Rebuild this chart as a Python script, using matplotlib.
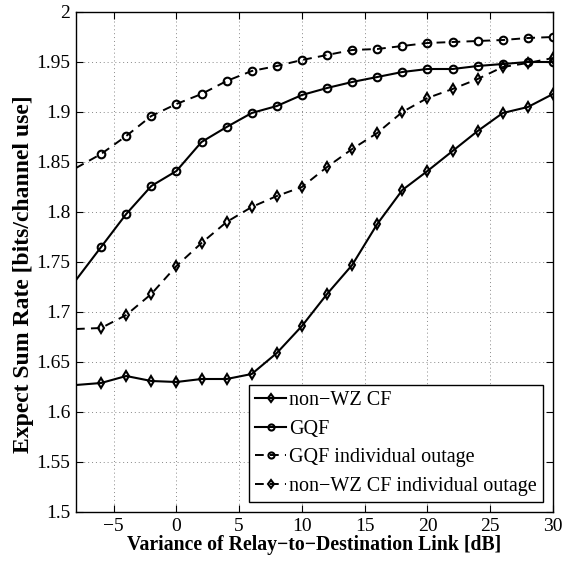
import numpy as np
import matplotlib
matplotlib.use("Agg")
import matplotlib.pyplot as plt
from matplotlib.ticker import FuncFormatter

plt.rcParams["font.family"] = ["Liberation Serif", "DejaVu Serif"]

# variance of relay-to-destination link [dB]
snr_db = [-8, -6, -4, -2, 0, 2, 4, 6, 8, 10, 12, 14, 16, 18, 20, 22, 24, 26, 28, 30]

nonwz_cf = [1.627, 1.629, 1.636, 1.631, 1.630, 1.633, 1.633, 1.638, 1.659, 1.686,
            1.718, 1.747, 1.788, 1.822, 1.841, 1.861, 1.881, 1.899, 1.905, 1.918]
gqf = [1.732, 1.765, 1.798, 1.826, 1.841, 1.870, 1.885, 1.899, 1.906, 1.917,
       1.924, 1.930, 1.935, 1.940, 1.943, 1.943, 1.946, 1.948, 1.950, 1.950]
gqf_outage = [1.844, 1.858, 1.876, 1.896, 1.908, 1.918, 1.931, 1.941, 1.946, 1.952,
              1.957, 1.962, 1.963, 1.966, 1.969, 1.970, 1.971, 1.972, 1.974, 1.975]
nonwz_outage = [1.683, 1.684, 1.697, 1.718, 1.746, 1.769, 1.790, 1.805, 1.816, 1.825,
                1.845, 1.863, 1.879, 1.900, 1.914, 1.923, 1.933, 1.945, 1.949, 1.954]

labels = ["non\u2212WZ CF", "GQF", "GQF individual outage", "non\u2212WZ CF individual outage"]

fig = plt.figure(figsize=(5.78, 5.67), dpi=100)
ax = fig.add_axes([76 / 578, 1 - 512 / 567, 477 / 578, 500 / 567])

common = dict(color="black", mfc="none", mew=1.5, markersize=5.5, markevery=slice(1, None))
dash = (4.5, 3.2)
ax.plot(snr_db, nonwz_cf, "-", marker="d", lw=1.5, label=labels[0], **common)
ax.plot(snr_db, gqf, "-", marker="o", lw=1.5, label=labels[1], **common)
ax.plot(snr_db, gqf_outage, "--", marker="o", lw=1.4, dashes=dash, label=labels[2], **common)
ax.plot(snr_db, nonwz_outage, "--", marker="d", lw=1.4, dashes=dash, label=labels[3], **common)

ax.set_xlim(-8, 30)
ax.set_ylim(1.5, 2.0)
ax.set_xticks(np.arange(-5, 31, 5))
ax.set_yticks(np.arange(1.5, 2.001, 0.05))
ax.yaxis.set_major_formatter(FuncFormatter(lambda v, p: f"{v:.2f}".rstrip("0").rstrip(".")))
ax.xaxis.set_major_formatter(FuncFormatter(lambda v, p: f"{v:g}".replace("-", "\u2212")))
ax.tick_params(direction="in", top=True, right=True, labelsize=14, length=5, width=0.8, pad=4)
ax.grid(True, linestyle=(0, (1, 3)), color="#888888", linewidth=0.7)
for s in ax.spines.values():
    s.set_linewidth(1.0)

ax.set_xlabel("Variance of Relay\u2212to\u2212Destination Link [dB]", fontsize=14.2,
              fontweight="bold", labelpad=0)
ax.set_ylabel("Expect Sum Rate [bits/channel use]", fontsize=17, fontweight="bold")
ax.yaxis.set_label_coords(-0.088, 0.476)

leg = ax.legend(loc="lower right", fontsize=14.5, frameon=True, fancybox=False,
                edgecolor="black", framealpha=1, handlelength=1.55, handletextpad=0.15,
                borderpad=0.3, labelspacing=0.47, borderaxespad=0.5, markerscale=0.8)
leg.get_frame().set_linewidth(1.0)

fig.savefig("out.png", dpi=100)
